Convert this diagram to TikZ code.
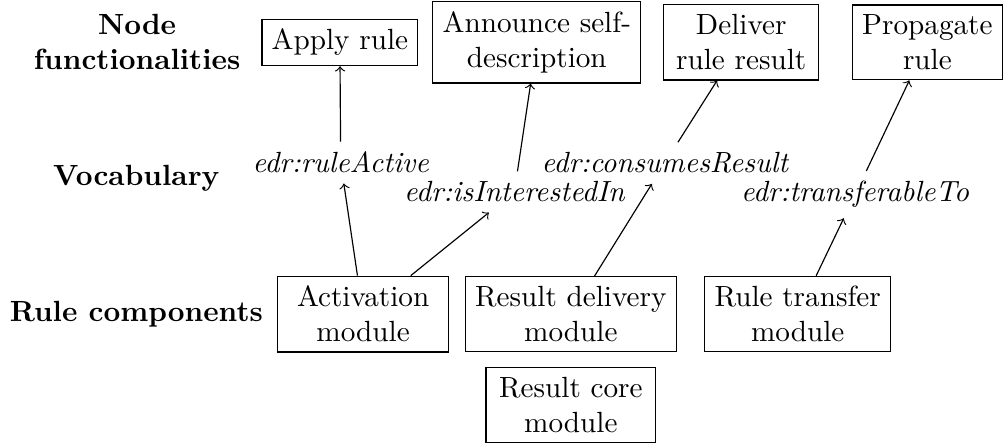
\documentclass[tikz,border=0pt]{standalone}
\usepackage{amsmath}
\usepackage{tikz}

\begin{document}
\begin{tikzpicture}[scale=1,
        box/.style={shape=rectangle, draw=black, align=center},
        term/.style={font=\itshape, anchor=base},
        rowlabel/.style={font=\bfseries, align=center}]
        \useasboundingbox (0,0) rectangle (12.07,-5.357);

        % row labels
        \node (lfunc) at (1.65,-0.51) [rowlabel] {Node\\functionalities};
        \node (lvocab) at (1.64,-2.14) [rowlabel] {Vocabulary};
        \node (lcomp) at (1.64,-3.78) [rowlabel] {Rule components};

        % node functionalities
        \node (apply) at (4.09,-0.51) [box] {Apply rule};
        \node (announce) at (6.46,-0.51) [box] {Announce self-\\description};
        \node (deliver) at (8.92,-0.51) [box, text width=46.5pt] {Deliver\\rule result};
        \node (propagate) at (11.16,-0.51) [box] {Propagate\\rule};

        % vocabulary
        \node (active) at (4.10,-2.08) [term] {edr:ruleActive};
        \node (interested) at (6.19,-2.43) [term] {edr:isInterestedIn};
        \node (consumes) at (8.00,-2.08) [term] {edr:consumesResult};
        \node (transferable) at (10.29,-2.43) [term] {edr:transferableTo};

        % rule components
        \node (activation) at (4.37,-3.78) [box, text width=51.9pt] {Activation\\module};
        \node (delivery) at (6.87,-3.78) [box] {Result delivery\\module};
        \node (transfer) at (9.60,-3.78) [box] {Rule transfer\\module};
        \node (core) at (6.87,-4.87) [box, text width=51.5pt] {Result core\\module};

        % connections
        \draw[->] (active) -- (apply);
        \draw[->] (interested) -- (announce);
        \draw[->] (consumes) -- (deliver);
        \draw[->] (transferable) -- (propagate);
        \draw[->] (activation) -- (active);
        \draw[->] (activation) -- (interested);
        \draw[->] (delivery) -- (consumes);
        \draw[->] (transfer) -- (transferable);
    \end{tikzpicture}
\end{document}
